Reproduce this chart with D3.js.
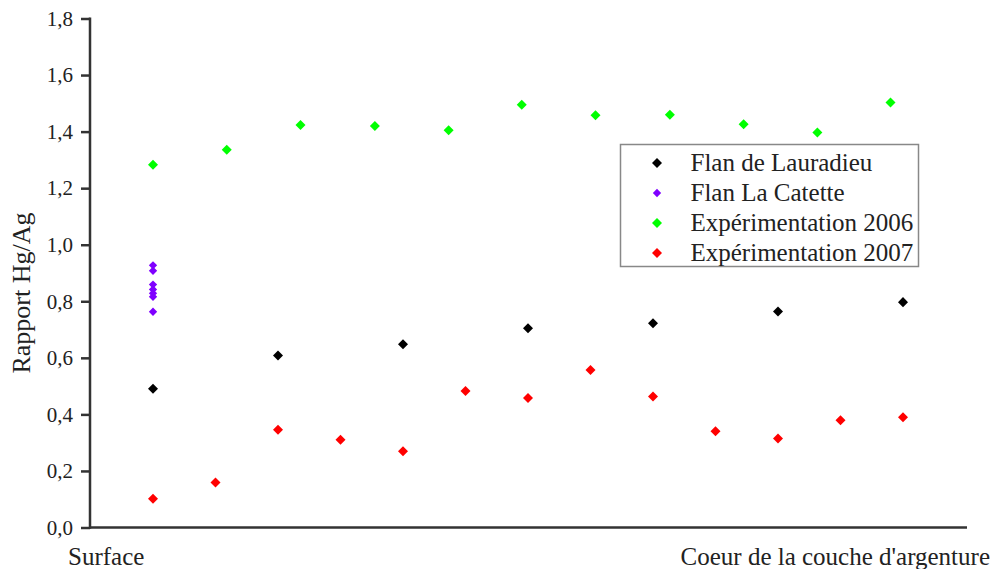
<!DOCTYPE html>
<html><head><meta charset="utf-8">
<script src="https://cdn.jsdelivr.net/npm/d3@7"></script>
<style>body{margin:0;background:#fff}svg{display:block}</style>
</head><body>
<svg id="c" width="992" height="569"></svg>
<script>
// Depth positions (arbitrary units from surface to core)
const lauradieuX = [0, 2, 4, 6, 8, 10, 12];
const lauradieuY = [0.491, 0.608, 0.648, 0.705, 0.722, 0.764, 0.797];
const catetteX = [0, 0, 0, 0, 0, 0, 0];
const catetteY = [0.927, 0.908, 0.859, 0.842, 0.828, 0.816, 0.763];
const exp2006X = [0, 1.18, 2.36, 3.55, 4.73, 5.9, 7.08, 8.27, 9.45, 10.63, 11.8];
const exp2006Y = [1.283, 1.336, 1.423, 1.42, 1.405, 1.495, 1.458, 1.46, 1.426, 1.397, 1.503];
const exp2007X = [0, 1, 2, 3, 4, 5, 6, 7, 8, 9, 10, 11, 12];
const exp2007Y = [0.102, 0.159, 0.346, 0.31, 0.27, 0.483, 0.458, 0.557, 0.463, 0.34, 0.315, 0.379, 0.39];
const seriesNames = ["Flan de Lauradieu", "Flan La Catette", "Expérimentation 2006", "Expérimentation 2007"];
const seriesColors = ["#000000", "#7f00ff", "#00ff00", "#ff0000"];
const yTicks = [0, 0.2, 0.4, 0.6, 0.8, 1.0, 1.2, 1.4, 1.6, 1.8];
const yLabel = "Rapport Hg/Ag";
const xStartLabel = "Surface";
const xEndLabel = "Coeur de la couche d'argenture";

const svg = d3.select("#c");
const font = "'Liberation Serif','Times New Roman',serif";
const x = d3.scaleLinear().domain([0, 12]).range([153, 903]);
const y = d3.scaleLinear().domain([0, 1.8]).range([527.5, 18.5]);
const axisLeftX = 90, axisRightX = 967;

// y axis
const ya = svg.append("g").attr("transform", `translate(${axisLeftX},0)`)
  .call(d3.axisLeft(y).tickValues(yTicks).tickSize(9).tickPadding(8)
    .tickFormat(d => d3.format(".1f")(d).replace(".", ",")));
ya.select(".domain").remove();
ya.selectAll(".tick line").attr("stroke", "#333").attr("stroke-width", 2.5);
ya.selectAll(".tick text").attr("font-family", font).attr("font-size", 21).attr("fill", "#222");
svg.append("line").attr("x1", axisLeftX).attr("x2", axisLeftX)
  .attr("y1", y(1.8) - 1).attr("y2", y(0) + 1.25)
  .attr("stroke", "#333").attr("stroke-width", 2.5);
// x axis baseline
svg.append("line").attr("x1", axisLeftX - 1).attr("x2", axisRightX)
  .attr("y1", y(0)).attr("y2", y(0)).attr("stroke", "#333").attr("stroke-width", 2.5);

// labels
svg.append("text").attr("transform", `translate(30,${(y(0) + y(1.8)) / 2 + 20}) rotate(-90)`)
  .attr("text-anchor", "middle").attr("font-family", font).attr("font-size", 26).attr("fill", "#222").text(yLabel);
svg.append("text").attr("x", 68).attr("y", 565).attr("font-family", font).attr("font-size", 25).attr("fill", "#222").text(xStartLabel);
svg.append("text").attr("x", 990).attr("y", 565).attr("text-anchor", "end").attr("font-family", font).attr("font-size", 25).attr("fill", "#222").text(xEndLabel);

// points
const sym = (s) => d3.symbol().type(d3.symbolDiamond2).size(s)();
const series = [
  {xs: lauradieuX, ys: lauradieuY, size: 64},
  {xs: catetteX, ys: catetteY, size: 44},
  {xs: exp2006X, ys: exp2006Y, size: 64},
  {xs: exp2007X, ys: exp2007Y, size: 64}
];
series.forEach((s, i) => {
  svg.append("g").selectAll("path").data(s.ys).join("path")
    .attr("d", sym(s.size))
    .attr("transform", (d, j) => `translate(${x(s.xs[j])},${y(d)})`)
    .attr("fill", seriesColors[i]);
});

// legend
const lg = svg.append("g").attr("transform", "translate(620.5,144.5)");
lg.append("rect").attr("width", 298).attr("height", 122).attr("fill", "#fff").attr("stroke", "#888").attr("stroke-width", 1.5);
seriesNames.forEach((n, i) => {
  const cy = 18.5 + i * 30;
  lg.append("path").attr("d", sym(i === 1 ? 44 : 64)).attr("transform", `translate(36.5,${cy})`).attr("fill", seriesColors[i]);
  lg.append("text").attr("x", 70).attr("y", cy + 7.5).attr("font-family", font).attr("font-size", 25).attr("fill", "#222").text(n);
});
</script>
</body></html>
